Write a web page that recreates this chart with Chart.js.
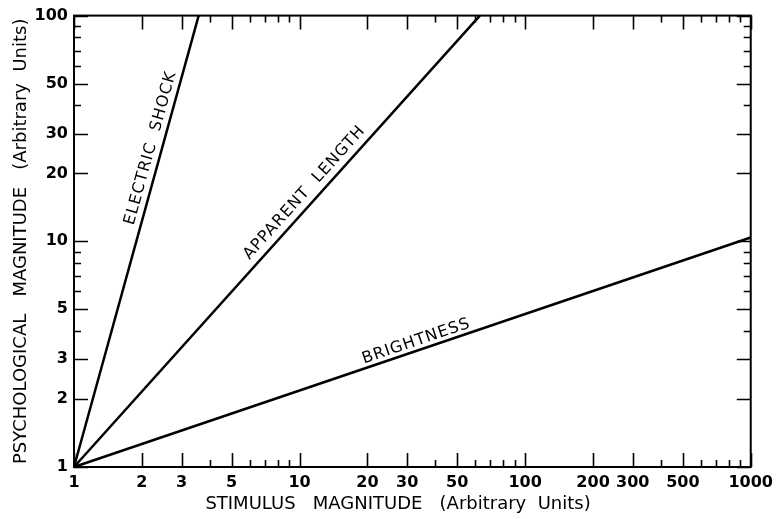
<!DOCTYPE html>
<html>
<head>
<meta charset="utf-8">
<script src="https://cdn.jsdelivr.net/npm/chart.js@4.4.1/dist/chart.umd.min.js"></script>
<style>
  html, body { margin: 0; padding: 0; background: #fff; }
</style>
</head>
<body>
<canvas id="powerChart" width="779" height="519"></canvas>
<script>
// Stevens power law lines (log-log)
var shockX = [1, 3.57];
var shockY = [1, 100];
var lengthX = [1, 63];
var lengthY = [1, 100];
var brightX = [1, 1000];
var brightY = [1, 10.4];

var seriesNames = ['ELECTRIC  SHOCK', 'APPARENT  LENGTH', 'BRIGHTNESS'];

// tick marks and labelled ticks
var xTicks = [1, 2, 3, 4, 5, 6, 7, 8, 9, 10, 20, 30, 40, 50, 60, 70, 80, 90, 100,
              200, 300, 400, 500, 600, 700, 800, 900, 1000];
var xTickLabels = [1, 2, 3, 5, 10, 20, 30, 50, 100, 200, 300, 500, 1000];
var yTicks = [1, 2, 3, 4, 5, 6, 7, 8, 9, 10, 20, 30, 40, 50, 60, 70, 80, 90, 100];
var yTickLabels = [1, 2, 3, 5, 10, 20, 30, 50, 100];

function toPoints(xs, ys) {
    return xs.map(function(x, i) { return {x: x, y: ys[i]}; });
}

// where each name sits along its line (0..1) and how far off the line
var lineLabelPos = [
    {t: 0.70, off: 11},
    {t: 0.59, off: 12},
    {t: 0.51, off: 9}
];

Chart.defaults.font.family = 'DejaVu Sans';
Chart.defaults.color = '#000';

// frame + inward ticks on all four sides
var framePlugin = {
    id: 'frame',
    afterDraw: function(chart) {
        var ctx = chart.ctx;
        var a = chart.chartArea;
        var xs = chart.scales.x, ys = chart.scales.y;
        ctx.save();
        ctx.strokeStyle = '#000';
        ctx.lineWidth = 2;
        ctx.strokeRect(a.left, a.top, a.right - a.left, a.bottom - a.top);
        ctx.lineWidth = 1.6;
        ctx.beginPath();
        xTicks.forEach(function(v) {
            var px = Math.round(xs.getPixelForValue(v)) + 0.5;
            var len = xTickLabels.indexOf(v) >= 0 ? 14 : 7;
            ctx.moveTo(px, a.bottom); ctx.lineTo(px, a.bottom - len);
            ctx.moveTo(px, a.top); ctx.lineTo(px, a.top + len);
        });
        yTicks.forEach(function(v) {
            var py = Math.round(ys.getPixelForValue(v)) + 0.5;
            var len = yTickLabels.indexOf(v) >= 0 ? 14 : 7;
            ctx.moveTo(a.left, py); ctx.lineTo(a.left + len, py);
            ctx.moveTo(a.right, py); ctx.lineTo(a.right - len, py);
        });
        ctx.stroke();
        ctx.restore();
    }
};

// names written along the lines
var lineNamePlugin = {
    id: 'lineNames',
    afterDatasetsDraw: function(chart) {
        var ctx = chart.ctx;
        var xs = chart.scales.x, ys = chart.scales.y;
        ctx.save();
        ctx.fillStyle = '#000';
        ctx.font = '16px "DejaVu Sans"';
        ctx.letterSpacing = '1px';
        ctx.textAlign = 'center';
        ctx.textBaseline = 'middle';
        chart.data.datasets.forEach(function(ds, i) {
            var p0 = ds.data[0], p1 = ds.data[ds.data.length - 1];
            var x0 = xs.getPixelForValue(p0.x), y0 = ys.getPixelForValue(p0.y);
            var x1 = xs.getPixelForValue(p1.x), y1 = ys.getPixelForValue(p1.y);
            var ang = Math.atan2(y1 - y0, x1 - x0);
            var pos = lineLabelPos[i];
            var cx = x0 + (x1 - x0) * pos.t + Math.sin(ang) * pos.off;
            var cy = y0 + (y1 - y0) * pos.t - Math.cos(ang) * pos.off;
            ctx.save();
            ctx.translate(cx, cy);
            ctx.rotate(ang);
            ctx.fillText(seriesNames[i], 0, 0);
            ctx.restore();
        });
        ctx.restore();
    }
};

var lineStyle = {
    showLine: true,
    borderColor: '#000',
    backgroundColor: '#000',
    borderWidth: 2.5,
    pointRadius: 0,
    clip: false
};

var ctx = document.getElementById('powerChart').getContext('2d');
var powerChart = new Chart(ctx, {
    type: 'scatter',
    data: {
        datasets: [
            Object.assign({label: seriesNames[0], data: toPoints(shockX, shockY)}, lineStyle),
            Object.assign({label: seriesNames[1], data: toPoints(lengthX, lengthY)}, lineStyle),
            Object.assign({label: seriesNames[2], data: toPoints(brightX, brightY)}, lineStyle)
        ]
    },
    options: {
        responsive: false,
        animation: false,
        layout: { padding: { top: 14, right: 27, left: 0, bottom: 0 } },
        plugins: {
            legend: { display: false },
            tooltip: { enabled: false }
        },
        scales: {
            x: {
                type: 'logarithmic',
                position: 'bottom',
                min: 1,
                max: 1000,
                grid: { display: false, drawTicks: false },
                border: { display: false },
                afterBuildTicks: function(scale) {
                    scale.ticks = xTicks.map(function(v) { return {value: v}; });
                },
                afterFit: function(scale) { scale.height = 52; },
                ticks: {
                    autoSkip: false,
                    maxRotation: 0,
                    padding: 6,
                    font: { size: 16, weight: 'bold' },
                    callback: function(v) {
                        return xTickLabels.indexOf(v) >= 0 ? String(v) : '';
                    }
                },
                title: {
                    display: true,
                    // trailing spaces nudge the centred title a little left, as in the original
                    text: 'STIMULUS   MAGNITUDE   (Arbitrary  Units)     ',
                    font: { size: 18 },
                    padding: { top: 0, bottom: 4 }
                }
            },
            y: {
                type: 'logarithmic',
                min: 1,
                max: 100,
                grid: { display: false, drawTicks: false },
                border: { display: false },
                afterBuildTicks: function(scale) {
                    scale.ticks = yTicks.map(function(v) { return {value: v}; });
                },
                afterFit: function(scale) { scale.width = 74; },
                ticks: {
                    autoSkip: false,
                    padding: 6,
                    font: { size: 16, weight: 'bold' },
                    callback: function(v) {
                        return yTickLabels.indexOf(v) >= 0 ? String(v) : '';
                    }
                },
                title: {
                    display: true,
                    text: 'PSYCHOLOGICAL   MAGNITUDE   (Arbitrary  Units)',
                    font: { size: 18 },
                    padding: { top: 11, bottom: 0 }
                }
            }
        }
    },
    plugins: [framePlugin, lineNamePlugin]
});
</script>
</body>
</html>
